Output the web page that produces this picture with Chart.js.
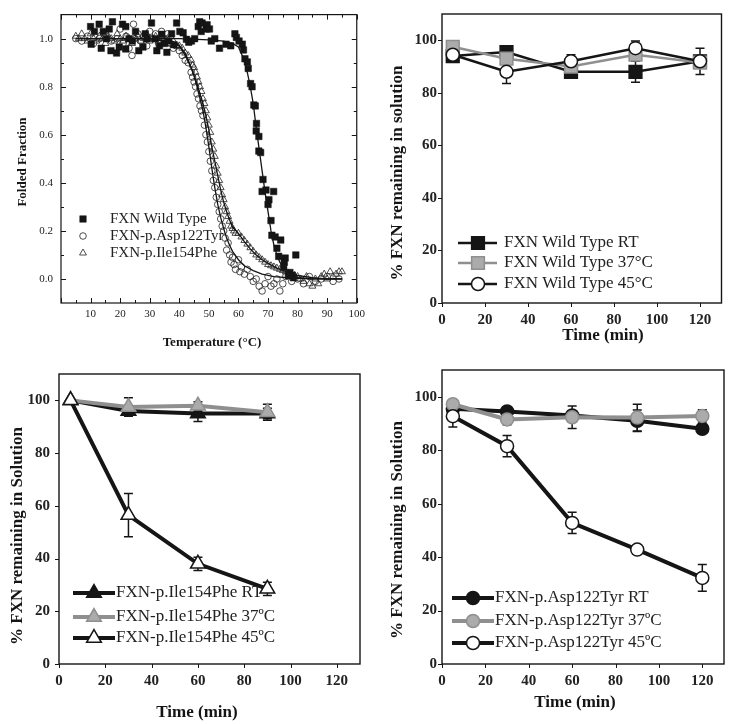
<!DOCTYPE html>
<html>
<head>
<meta charset="utf-8">
<script src="https://cdn.jsdelivr.net/npm/chart.js@4.4.1/dist/chart.umd.min.js"></script>
<style>
  body { margin: 0; background: #fff; width: 732px; height: 724px; position: relative; overflow: hidden; }
  canvas { position: absolute; }
</style>
</head>
<body>
<canvas id="melt-chart" width="370" height="360" style="left:0;top:0"></canvas>
<canvas id="wt-chart" width="362" height="360" style="left:370px;top:0"></canvas>
<canvas id="ile-chart" width="370" height="368" style="left:0;top:356px"></canvas>
<canvas id="asp-chart" width="362" height="368" style="left:370px;top:356px"></canvas>
<script>
// ---- panel A : thermal unfolding (temperature, folded fraction) ----
let wtPoints = [
  [10,1.05],[10.2,0.977],[11.3,1.03],[12.9,1.06],[13.6,0.96],[14.3,1.03],[15.4,1.00],[16.3,1.04],
  [16.9,0.95],[17.4,1.07],[18.8,0.94],[19.7,0.965],[20.8,1.06],[21.9,1.05],[21.9,0.957],[23,1.0],
  [24.1,0.99],[25.2,1.03],[26.3,0.95],[27.7,0.965],[28.5,1.02],[29.1,1.0],[30.6,1.065],[31.9,1.0],
  [32.4,0.95],[33.3,0.97],[34.1,1.018],[35,0.98],[35.8,0.943],[36.3,0.99],[37.4,1.02],[38.2,0.975],
  [39.1,1.065],[40.2,1.03],[41.3,1.024],[42.4,0.997],[43.2,0.985],[44.1,0.99],[45.2,1.0],[46.4,1.05],
  [46.9,1.07],[47.4,1.03],[47.7,1.065],[49.1,1.04],[49.4,1.058],[50.2,1.04],[50.8,0.99],[52,1.0],
  [53.6,0.96],[55.8,0.977],[57.4,0.97],[58.8,1.02],[59.3,1.005],[60.2,0.99],[61.3,0.977],[61.7,0.953],
  [62.2,0.916],[63,0.903],[63.3,0.876],[64.1,0.813],[64.6,0.80],[65.2,0.724],[65.7,0.72],[66,0.616],
  [66.1,0.647],[66.9,0.593],[66.9,0.532],[67.5,0.526],[68.3,0.414],[68,0.364],[69.3,0.37],[70,0.31],
  [70.3,0.33],[71.9,0.364],[71,0.243],[71.3,0.182],[72.4,0.175],[73,0.128],[74.3,0.162],[73.6,0.094],
  [75.8,0.087],[75.5,0.07],[75.3,0.05],[79.4,0.10],[77.4,0.027],[76.9,0.013],[78.2,0.015],[78.6,0.005]
];
let aspPoints = [
  [5,1.00],[7,0.99],[9,1.01],[11,0.98],[13,1.0],[15,1.02],[17,0.99],[19,1.0],[20,1.04],[21,0.98],
  [22,1.01],[23,0.96],[24,0.93],[24.5,1.06],[25,1.0],[26,1.02],[27,0.99],[28,1.01],[29,0.97],[30,1.03],
  [31,1.0],[32,1.02],[33,0.98],[34,1.03],[35,1.0],[36,1.02],[37,0.98],[38,0.96],[39,0.97],[40,0.95],
  [41,0.93],[42,0.91],[43,0.90],[44,0.86],[44.5,0.84],[45,0.82],[45.5,0.80],[46,0.77],[46.5,0.75],
  [47,0.72],[47.5,0.70],[48,0.68],[48.5,0.64],[49,0.60],[49.5,0.57],[50,0.53],[50.5,0.49],[51,0.45],
  [51.5,0.41],[52,0.38],[52.5,0.34],[53,0.31],[53.5,0.28],[54,0.25],[54.5,0.22],[55,0.20],[55.5,0.17],
  [56,0.12],[56.5,0.15],[57,0.10],[57.5,0.07],[58,0.09],[58.5,0.06],[59,0.04],[60,0.08],[60.5,0.03],
  [61,0.05],[62,0.02],[63,0.04],[64,0.01],[65,-0.01],[66,0.0],[67,-0.03],[68,-0.05],[69,-0.02],
  [70,0.01],[71,-0.03],[72,-0.02],[73,0.0],[74,-0.05],[75,-0.02],[76,0.01],[78,-0.01],[80,0.0],
  [82,-0.02],[84,0.01],[86,-0.01],[88,0.0],[90,0.01],[92,-0.01],[94,0.0]
];
let ilePoints = [
  [5,1.01],[6,1.0],[7,1.02],[8,1.0],[9,0.99],[10,1.02],[11,1.0],[12,0.99],[13,1.01],[14,1.0],
  [15,0.98],[16,1.01],[17,1.0],[18,0.99],[19,1.02],[20,1.0],[21,0.99],[22,1.01],[23,1.0],[24,0.98],
  [25,1.0],[26,1.01],[27,0.99],[28,1.0],[29,1.02],[30,0.99],[31,1.0],[32,1.01],[33,0.99],[34,1.0],
  [35,0.99],[36,1.0],[37,0.98],[38,0.99],[39,0.97],[40,0.97],[41,0.96],[42,0.94],[43,0.93],[44,0.91],
  [44.5,0.89],[45,0.88],[45.5,0.86],[46,0.84],[46.5,0.82],[47,0.80],[47.5,0.78],[48,0.75],[48.5,0.73],
  [49,0.70],[49.5,0.67],[50,0.64],[50.5,0.61],[51,0.57],[51.5,0.54],[52,0.51],[52.5,0.47],[53,0.44],
  [53.5,0.41],[54,0.38],[54.5,0.35],[55,0.33],[55.5,0.30],[56,0.28],[56.5,0.26],[57,0.24],[57.5,0.22],
  [58,0.21],[58.5,0.20],[59,0.19],[60,0.19],[61,0.175],[62,0.16],[63,0.145],[64,0.13],[65,0.115],
  [66,0.10],[67,0.09],[68,0.08],[69,0.07],[70,0.06],[71,0.055],[72,0.05],[73,0.045],[74,0.04],
  [75,0.035],[76,0.03],[77,0.025],[78,0.02],[79,0.015],[80,0.01],[81,0.0],[82,-0.01],[83,0.01],
  [84,-0.02],[85,-0.03],[86,0.0],[87,-0.02],[88,0.01],[89,0.02],[90,0.0],[91,0.03],[92,0.01],
  [93,0.02],[94,0.03],[95,0.03]
];
let wtFit = [
  [10,1.0],[40,1.0],[50,0.995],[55,0.99],[58,0.98],[60,0.965],[62,0.91],[63,0.86],[64,0.80],[65,0.73],
  [66,0.63],[67,0.54],[68,0.45],[69,0.36],[70,0.28],[71,0.20],[72,0.14],[73,0.10],[74,0.07],[75,0.05],
  [76,0.035],[78,0.015],[80,0.006],[85,0.0],[95,0.0]
];
let aspFit = [
  [5,1.0],[30,1.0],[38,0.985],[40,0.97],[42,0.94],[44,0.88],[45,0.845],[46,0.80],[47,0.75],[48,0.70],
  [49,0.63],[50,0.55],[51,0.46],[52,0.38],[53,0.31],[54,0.255],[55,0.21],[56,0.17],[57,0.14],[58,0.115],
  [60,0.08],[62,0.055],[65,0.035],[68,0.02],[72,0.01],[78,0.004],[85,0.0],[95,0.0]
];
let ileFit = [
  [5,1.0],[30,1.0],[38,0.985],[40,0.97],[42,0.93],[44,0.88],[46,0.81],[48,0.73],[49,0.68],[50,0.62],
  [51,0.55],[52,0.49],[53,0.43],[54,0.37],[55,0.32],[56,0.28],[57,0.245],[58,0.215],[60,0.19],[62,0.155],
  [64,0.125],[66,0.10],[68,0.08],[70,0.065],[73,0.045],[76,0.03],[80,0.015],[85,0.005],[90,0.0],[95,0.0]
];
let tempTicks = [0,10,20,30,40,50,60,70,80,90,100];
let tempMinorTicks = [5,15,25,35,45,55,65,75,85,95];
let fractionTicks = [0,0.2,0.4,0.6,0.8,1.0];
let fractionMinorTicks = [0.1,0.3,0.5,0.7,0.9];

// ---- panels B-D : solubility over time (%) ----
let timeTicks = [0,20,40,60,80,100,120];
let percentTicks = [0,20,40,60,80,100];

let wtTime = [5,30,60,90,120];
let wtRT = [94,95.5,88,88,92];
let wtRTErr = [1,1,1,4,1.5];
let wt37 = [97.5,93,90,94.5,91.5];
let wt37Err = [1.5,1.5,1.5,2,2];
let wt45 = [94.5,88,92,97,92];
let wt45Err = [1,4.5,2.5,2.7,5];

let ileTime = [5,30,60,90];
let ileRT = [100,96,95,95];
let ileRTErr = [0.5,1,3,2];
let ile37 = [100,97.5,98,95.5];
let ile37Err = [0.5,3.5,1.5,3];
let ile45 = [100,56.5,38,28.5];
let ile45Err = [0.5,8.2,2.5,2.5];

let aspTime = [5,30,60,90,120];
let aspRT = [95.5,94.5,93,91,88];
let aspRTErr = [1,1.5,1,4,1];
let asp37 = [97.2,91.5,92.3,92.2,92.8];
let asp37Err = [1,2,4.2,5,2.3];
let asp45 = [92.7,81.5,52.8,42.8,32.2];
let asp45Err = [4,4,4,1,5];

const serif = "'Liberation Serif', 'Times New Roman', serif";
const ink = '#151515';
const grey = '#8f8f8f';
const greyFill = '#ababab';

pairs = (list) => list.map(p => ({x: p[0], y: p[1]}));
toXY = (xs, ys) => xs.map((x, i) => ({x: x, y: ys[i]}));

// box round the plot area plus tick marks
let framePlugin = {
  id: 'frame',
  beforeDatasetsDraw(chart, args, opts) {
    let ctx = chart.ctx;
    let a = chart.chartArea;
    let xs = chart.scales.x, ys = chart.scales.y;
    ctx.save();
    ctx.strokeStyle = ink;
    ctx.lineWidth = opts.lineWidth || 1;
    ctx.strokeRect(a.left, a.top, a.right - a.left, a.bottom - a.top);
    ctx.lineWidth = 1;
    ctx.beginPath();
    (opts.xTicks || []).forEach(t => {
      t.values.forEach(v => {
        let px = Math.round(xs.getPixelForValue(v)) + 0.5;
        if (opts.inward) {
          ctx.moveTo(px, a.bottom); ctx.lineTo(px, a.bottom - t.len);
          ctx.moveTo(px, a.top); ctx.lineTo(px, a.top + t.len);
        } else {
          ctx.moveTo(px, a.bottom); ctx.lineTo(px, a.bottom + t.len);
        }
      });
    });
    (opts.yTicks || []).forEach(t => {
      t.values.forEach(v => {
        let py = Math.round(ys.getPixelForValue(v)) + 0.5;
        if (opts.inward) {
          ctx.moveTo(a.left, py); ctx.lineTo(a.left + t.len, py);
          ctx.moveTo(a.right, py); ctx.lineTo(a.right - t.len, py);
        } else {
          ctx.moveTo(a.left, py); ctx.lineTo(a.left - t.len, py);
        }
      });
    });
    ctx.stroke();
    ctx.restore();
  },
  afterDraw(chart, args, opts) {
    let ctx = chart.ctx;
    ctx.save();
    ctx.fillStyle = ink;
    ctx.textAlign = 'center';
    ctx.textBaseline = 'middle';
    if (opts.xTitle) {
      ctx.font = opts.xTitle.font;
      ctx.fillText(opts.xTitle.text, opts.xTitle.x, opts.xTitle.y);
    }
    if (opts.yTitle) {
      ctx.font = opts.yTitle.font;
      ctx.translate(opts.yTitle.x, opts.yTitle.y);
      ctx.rotate(-Math.PI / 2);
      ctx.fillText(opts.yTitle.text, 0, 0);
    }
    ctx.restore();
  }
};

// vertical error bars taken from dataset.errors
let errorBarPlugin = {
  id: 'errorBars',
  beforeDatasetsDraw(chart) {
    let ctx = chart.ctx;
    let xs = chart.scales.x, ys = chart.scales.y;
    ctx.save();
    ctx.strokeStyle = ink;
    ctx.lineWidth = 1.5;
    chart.data.datasets.forEach(ds => {
      if (!ds.errors) return;
      ds.errors.forEach((e, j) => {
        if (!e) return;
        let pt = ds.data[j];
        let x = xs.getPixelForValue(pt.x);
        let yTop = ys.getPixelForValue(pt.y + e);
        let yBot = ys.getPixelForValue(pt.y - e);
        ctx.beginPath();
        ctx.moveTo(x, yTop); ctx.lineTo(x, yBot);
        ctx.moveTo(x - 4.5, yTop); ctx.lineTo(x + 4.5, yTop);
        ctx.moveTo(x - 4.5, yBot); ctx.lineTo(x + 4.5, yBot);
        ctx.stroke();
      });
    });
    ctx.restore();
  }
};

// legend drawn inside the plot
let innerLegendPlugin = {
  id: 'innerLegend',
  afterDraw(chart, args, opts) {
    if (!opts.items) return;
    let ctx = chart.ctx;
    ctx.save();
    ctx.font = opts.font;
    ctx.textBaseline = 'middle';
    opts.items.forEach((it, i) => {
      let y = opts.rows[i];
      if (it.lineWidth) {
        ctx.strokeStyle = it.lineColor;
        ctx.lineWidth = it.lineWidth;
        ctx.beginPath();
        ctx.moveTo(opts.lineFrom, y); ctx.lineTo(opts.lineTo, y);
        ctx.stroke();
      }
      ctx.fillStyle = it.fill;
      ctx.strokeStyle = it.stroke;
      ctx.lineWidth = it.borderWidth;
      Chart.helpers.drawPoint(ctx, {pointStyle: it.style, radius: it.radius, borderWidth: it.borderWidth, rotation: 0}, opts.markerX, y);
      ctx.fillStyle = '#222';
      ctx.fillText(it.text, opts.textX, y);
    });
    ctx.restore();
  }
};

// ---------------- panel A ----------------
let meltCfg = {
  type: 'line',
  data: {
    datasets: [
      {data: pairs(wtFit), borderColor: ink, borderWidth: 1.3, pointRadius: 0, showLine: true},
      {data: pairs(aspFit), borderColor: ink, borderWidth: 1.3, pointRadius: 0, showLine: true},
      {data: pairs(ileFit), borderColor: ink, borderWidth: 1.3, pointRadius: 0, showLine: true},
      {data: pairs(wtPoints), showLine: false, pointStyle: 'rect', pointRadius: 4.6,
        pointBackgroundColor: ink, pointBorderColor: ink, pointBorderWidth: 0.5},
      {data: pairs(aspPoints), showLine: false, pointStyle: 'circle', pointRadius: 3.3,
        pointBackgroundColor: 'rgba(255,255,255,0)', pointBorderColor: '#222', pointBorderWidth: 0.8},
      {data: pairs(ilePoints), showLine: false, pointStyle: 'triangle', pointRadius: 4,
        pointBackgroundColor: 'rgba(255,255,255,0)', pointBorderColor: '#222', pointBorderWidth: 0.8}
    ]
  },
  options: {
    responsive: false,
    animation: false,
    events: [],
    layout: {padding: {top: 6, right: 8, left: 0, bottom: 0}},
    scales: {
      x: {
        type: 'linear', min: 0, max: 100,
        grid: {display: false, drawTicks: false}, border: {display: false},
        afterBuildTicks: s => { s.ticks = tempTicks.map(v => ({value: v})); },
        afterFit: s => { s.height = 57; },
        ticks: {padding: 5, color: '#222', font: {family: serif, size: 11},
          callback: v => v === 0 ? '' : v}
      },
      y: {
        type: 'linear', min: -0.1, max: 1.1,
        grid: {display: false, drawTicks: false}, border: {display: false},
        afterBuildTicks: s => { s.ticks = fractionTicks.map(v => ({value: v})); },
        afterFit: s => { s.width = 61; },
        ticks: {padding: 8, color: '#222', font: {family: serif, size: 11},
          callback: v => v.toFixed(1)}
      }
    },
    plugins: {
      legend: {display: false},
      tooltip: {enabled: false},
      frame: {
        inward: true, lineWidth: 1.2,
        xTicks: [{values: tempTicks, len: 5}, {values: tempMinorTicks, len: 3}],
        yTicks: [{values: fractionTicks, len: 5}, {values: fractionMinorTicks, len: 3}],
        xTitle: {text: 'Temperature (\u00B0C)', x: 212, y: 343, font: 'bold 13px ' + serif},
        yTitle: {text: 'Folded Fraction', x: 23, y: 162, font: 'bold 13px ' + serif}
      },
      innerLegend: {
        font: '15px ' + serif, markerX: 83, textX: 110, rows: [219, 236, 253],
        items: [
          {text: 'FXN Wild Type', style: 'rect', radius: 4.6, fill: ink, stroke: ink, borderWidth: 0.5},
          {text: 'FXN-p.Asp122Tyr', style: 'circle', radius: 3.3, fill: 'rgba(255,255,255,0)', stroke: '#222', borderWidth: 0.8},
          {text: 'FXN-p.Ile154Phe', style: 'triangle', radius: 4, fill: 'rgba(255,255,255,0)', stroke: '#222', borderWidth: 0.8}
        ]
      }
    }
  },
  plugins: [framePlugin, innerLegendPlugin]
};

// ---------------- panels B-D ----------------
makeTimeCfg = (datasets, yWidth, padRight, xHeight, tickPad, titles, legend) => {
  return {
    type: 'line',
    data: {datasets: datasets},
    options: {
      responsive: false,
      animation: false,
      events: [],
      layout: {padding: {top: 6, right: padRight, left: 0, bottom: 0}},
      scales: {
        x: {
          type: 'linear', min: 0, max: 130,
          grid: {display: false, drawTicks: false}, border: {display: false},
          afterBuildTicks: s => { s.ticks = timeTicks.map(v => ({value: v})); },
          afterFit: s => { s.height = xHeight; },
          ticks: {padding: tickPad.x, color: '#222', font: {family: serif, size: 15, weight: 'bold'}}
        },
        y: {
          type: 'linear', min: 0, max: 110,
          grid: {display: false, drawTicks: false}, border: {display: false},
          afterBuildTicks: s => { s.ticks = percentTicks.map(v => ({value: v})); },
          afterFit: s => { s.width = yWidth; },
          ticks: {padding: tickPad.y, color: '#222', font: {family: serif, size: 15, weight: 'bold'}}
        }
      },
      plugins: {
        legend: {display: false},
        tooltip: {enabled: false},
        frame: {
          inward: false, lineWidth: 1.4,
          xTicks: [{values: timeTicks, len: 4}],
          yTicks: [{values: percentTicks, len: 4}],
          xTitle: titles.x,
          yTitle: titles.y
        },
        innerLegend: legend
      }
    },
    plugins: [errorBarPlugin, framePlugin, innerLegendPlugin]
  };
}

series = (xs, ys, errs, style) => {
  return {
    data: toXY(xs, ys), errors: errs, showLine: true,
    borderColor: style.line, borderWidth: style.width,
    pointStyle: style.marker, pointRadius: style.radius,
    pointBackgroundColor: style.fill, pointBorderColor: style.stroke, pointBorderWidth: 1.5
  };
}

let wtStyles = {
  rt: {line: ink, width: 2.5, marker: 'rect', radius: 9, fill: ink, stroke: ink},
  c37: {line: grey, width: 2.5, marker: 'rect', radius: 9, fill: greyFill, stroke: grey},
  c45: {line: ink, width: 2.5, marker: 'circle', radius: 6.5, fill: '#fff', stroke: ink}
};
let ileStyles = {
  rt: {line: ink, width: 4, marker: 'triangle', radius: 8.5, fill: ink, stroke: ink},
  c37: {line: grey, width: 4, marker: 'triangle', radius: 8.5, fill: greyFill, stroke: grey},
  c45: {line: ink, width: 4, marker: 'triangle', radius: 8.5, fill: '#fff', stroke: ink}
};
let aspStyles = {
  rt: {line: ink, width: 4, marker: 'circle', radius: 6.5, fill: ink, stroke: ink},
  c37: {line: grey, width: 4, marker: 'circle', radius: 6.5, fill: greyFill, stroke: grey},
  c45: {line: ink, width: 4, marker: 'circle', radius: 6.5, fill: '#fff', stroke: ink}
};

legendItem = (text, st) => ({text: text, lineColor: st.line, lineWidth: st.width, style: st.marker,
  radius: st.radius, fill: st.fill, stroke: st.stroke, borderWidth: 1.5});

let wtCfg = makeTimeCfg(
  [series(wtTime, wt45, wt45Err, wtStyles.c45), series(wtTime, wt37, wt37Err, wtStyles.c37), series(wtTime, wtRT, wtRTErr, wtStyles.rt)],
  72, 4, 57, {x: 8, y: 5},
  {x: {text: 'Time (min)', x: 233, y: 336, font: 'bold 17px ' + serif},
   y: {text: '% FXN remaining in solution', x: 28, y: 173, font: 'bold 17px ' + serif}},
  {font: '17px ' + serif, lineFrom: 88, lineTo: 127, markerX: 108, textX: 134, rows: [243, 263, 284],
   items: [legendItem('FXN Wild Type RT', wtStyles.rt), legendItem('FXN Wild Type 37\u00B0C', wtStyles.c37), legendItem('FXN Wild Type 45\u00B0C', wtStyles.c45)]}
);

let ileCfg = makeTimeCfg(
  [series(ileTime, ile45, ile45Err, ileStyles.c45), series(ileTime, ile37, ile37Err, ileStyles.c37), series(ileTime, ileRT, ileRTErr, ileStyles.rt)],
  59, 9, 60, {x: 8, y: 9},
  {x: {text: 'Time (min)', x: 197, y: 357, font: 'bold 17px ' + serif},
   y: {text: '% FXN remaining in Solution', x: 18, y: 180, font: 'bold 17px ' + serif}},
  {font: '17px ' + serif, lineFrom: 73, lineTo: 115, markerX: 94, textX: 116, rows: [237, 261, 282],
   items: [legendItem('FXN-p.Ile154Phe RT', ileStyles.rt), legendItem('FXN-p.Ile154Phe 37\u00BAC', ileStyles.c37), legendItem('FXN-p.Ile154Phe 45\u00BAC', ileStyles.c45)]}
);

let aspCfg = makeTimeCfg(
  [series(aspTime, asp45, asp45Err, aspStyles.c45), series(aspTime, asp37, asp37Err, aspStyles.c37), series(aspTime, aspRT, aspRTErr, aspStyles.rt)],
  72, 6, 60, {x: 8, y: 5},
  {x: {text: 'Time (min)', x: 205, y: 347, font: 'bold 17px ' + serif},
   y: {text: '% FXN remaining in Solution', x: 28, y: 174, font: 'bold 17px ' + serif}},
  {font: '17px ' + serif, lineFrom: 82, lineTo: 124, markerX: 103, textX: 125, rows: [242, 265, 287],
   items: [legendItem('FXN-p.Asp122Tyr RT', aspStyles.rt), legendItem('FXN-p.Asp122Tyr 37\u00BAC', aspStyles.c37), legendItem('FXN-p.Asp122Tyr 45\u00BAC', aspStyles.c45)]}
);

let meltChart = new Chart(document.getElementById('melt-chart'), meltCfg);
let wtChart = new Chart(document.getElementById('wt-chart'), wtCfg);
let ileChart = new Chart(document.getElementById('ile-chart'), ileCfg);
let aspChart = new Chart(document.getElementById('asp-chart'), aspCfg);
</script>
</body>
</html>
